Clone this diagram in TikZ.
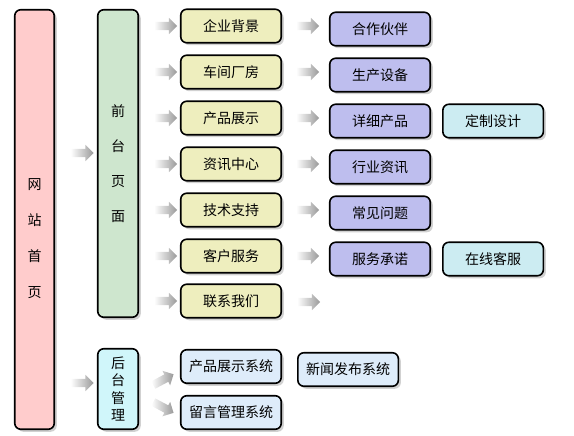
\documentclass[tikz,border=0pt]{standalone}
\usepackage{fontspec}
\newfontfamily\cjk{Noto Sans CJK SC}
\usetikzlibrary{positioning, calc, shapes.arrows, shadows}
\definecolor{homepink}{RGB}{255,204,204}
\definecolor{frontgreen}{RGB}{206,230,206}
\definecolor{backcyan}{RGB}{208,246,250}
\definecolor{itemyellow}{RGB}{238,238,190}
\definecolor{itemblue}{RGB}{190,190,238}
\definecolor{itemcyan}{RGB}{204,236,242}
\definecolor{sysblue}{RGB}{222,236,250}

\begin{document}
\begin{tikzpicture}[x=1pt, y=-1pt, font=\cjk\fontsize{14pt}{17pt}\selectfont,
    box/.style={draw=black, line width=1.6pt, rounded corners=6pt, inner sep=0pt,
        minimum width=100.5pt, minimum height=33.5pt,
        drop shadow={shadow xshift=2.5pt, shadow yshift=-2.5pt, fill=black!30, opacity=0.6}},
    garrow/.style={single arrow, draw=none, inner sep=4pt, minimum height=23pt,
        single arrow head extend=4pt, left color=white, right color=black!40}]
    \useasboundingbox (0,0) rectangle (574,436);

    % left columns
    \node[box, fill=homepink, minimum width=39.5pt, minimum height=419.5pt] (home) at (34.5,219.5) {};
    \node (homelbl) at (34.5,238.5) [align=center] {网\\[19pt]站\\[19pt]首\\[19pt]页};
    \node[box, fill=frontgreen, minimum width=40.5pt, minimum height=307.5pt] (front) at (118,163.5)
        [align=center] {前\\[18pt]台\\[18pt]页\\[18pt]面};
    \node[box, fill=backcyan, minimum width=40.5pt, minimum height=80.5pt] (back) at (118,389)
        [align=center] {后\\[0.5pt]台\\[0.5pt]管\\[0.5pt]理};
    \node[garrow] (afront) at (80,153) {};
    \node[garrow] (aback) at (80,383) {};

    % front pages
    \foreach \i/\y/\txt in {1/26/企业背景, 2/72/车间厂房, 3/118/产品展示, 4/164/资讯中心,
        5/210/技术支持, 6/256/客户服务, 7/301/联系我们}
    {
        \node[box, fill=itemyellow] (y\i) at (231,\y) {\txt};
        \node[garrow] (ay\i) at ($(front.east |- y\i)!0.6!(y\i.west)$) {};
    }
    \foreach \i/\txt in {1/合作伙伴, 2/生产设备, 3/详细产品, 4/行业资讯, 5/常见问题, 6/服务承诺}
    {
        \node[box, fill=itemblue] (b\i) at ($(y\i)+(149,3)$) {\txt};
        \node[garrow] (ab\i) at ($(y\i.east)!0.5!(b\i.west |- y\i)$) {};
    }
    \node[garrow] (ab7) at ($(y7.east)+(24.5,1)$) {};
    \node[box, fill=itemcyan, right=11pt of b3] (c3) {定制设计};
    \node[box, fill=itemcyan, right=11pt of b6] (c6) {在线客服};

    % back management
    \node[box, fill=sysblue] (s1) at (231,366.5) {产品展示系统};
    \node[box, fill=sysblue] (s2) at (231,412.5) {留言管理系统};
    \node[box, fill=sysblue, right=15pt of s1, yshift=-3pt] (s3) {新闻发布系统};
    \node[garrow, rotate=28] (as1) at ($(back.east)!0.55!(s1.west)+(0,4)$) {};
    \node[garrow, rotate=-28] (as2) at ($(back.east |- s2)!0.55!(s2.west)+(0,-6)$) {};
\end{tikzpicture}
\end{document}
